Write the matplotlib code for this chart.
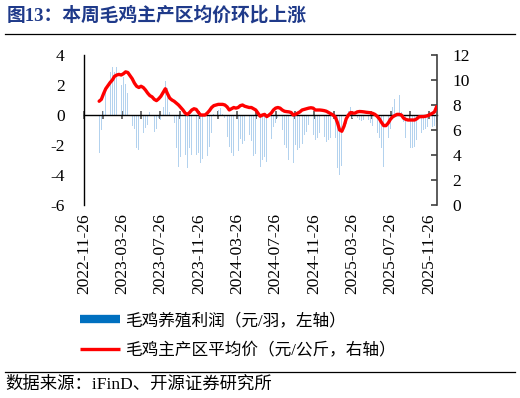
import numpy as np
import pandas as pd
import matplotlib
matplotlib.use('Agg')
import matplotlib.pyplot as plt
import matplotlib.dates as mdates
from matplotlib.lines import Line2D

plt.rcParams['font.family'] = ['Liberation Serif', 'Noto Sans CJK SC']
plt.rcParams['axes.unicode_minus'] = False

title = '图13：本周毛鸡主产区均价环比上涨'
source = '数据来源：iFinD、开源证券研究所'
bar_label = '毛鸡养殖利润（元/羽，左轴）'
line_label = '毛鸡主产区平均价（元/公斤，右轴）'

start_date = '2023-01-13'

# weekly broiler farming profit (yuan/bird, left axis)
profit = [
    -2.55, -1.0, 0.3, 1.9, 3.1, 2.85, 3.2, 2.9, 3.2, 2.8,
    2.0, 2.55, 2.1, 1.45, 0.45, -0.7, -0.9, -2.2, -2.35, -1.65,
    -1.2, -0.85, -0.65, 0.2, 0.05, -1.1, -0.9, -0.2, -0.35, 0.55,
    2.25, 1.8, 0.2, -1.0, -0.5, -2.2, -3.45, -2.8, -2.5, -2.65,
    -3.55, -2.2, -2.65, -2.45, -2.65, -2.55, -3.2, -2.9, -3.2, -2.7,
    -2.1, -1.2, 0.1, 0.2, 0.35, 0.45, 0.1, -0.2, -1.45, -2.1,
    -2.5, -2.7, -2.6, -2.4, -1.6, -1.9, -1.7, -2.0, -1.35, -1.7,
    -2.7, -2.6, -2.8, -3.45, -3.0, -2.8, -3.1, -2.45, -1.6, -0.8,
    -0.55, -0.2, 0.1, -1.0, -2.0, -2.2, -3.0, -3.1, -3.2, -2.0,
    -2.35, -2.2, -1.9, -1.35, -1.1, -0.65, -0.45, -1.35, -1.65, -1.55,
    -1.2, -1.65, -1.45, -1.8, -1.65, -1.55, -1.45, -1.55, -3.5, -4.0,
    -3.4, -2.7, -0.6, 0.3, 0.55, -0.2, -0.3, -0.2, -0.3, -0.4,
    -0.3, -0.35, -0.3, -0.5, -0.7, -0.8, -1.2, -1.55, -2.2, -3.45,
    -2.7, -1.55, -0.9, 0.55, 1.1, 1.8, 1.35, 0.2, -0.45, -1.55,
    -2.0, -2.2, -2.2, -2.1, -1.65, -1.35, -1.2, -1.0, -0.9, -0.8,
    -1.0, -0.8, -0.7, -0.45,
]

# weekly average broiler price in main producing areas (yuan/kg, right axis)
price = [
    8.3, 8.45, 8.9, 9.3, 9.55, 9.8, 10.0, 10.3, 10.4, 10.45,
    10.4, 10.5, 10.65, 10.6, 10.35, 10.1, 9.75, 9.5, 9.4, 9.5,
    9.4, 9.2, 8.95, 8.75, 8.65, 8.45, 8.35, 8.5, 8.7, 9.0,
    9.3, 8.9, 8.55, 8.4, 8.3, 8.15, 8.0, 7.8, 7.6, 7.35,
    7.25, 7.4, 7.6, 7.7, 7.65, 7.4, 7.2, 7.2, 7.2, 7.35,
    7.55, 7.8, 7.95, 8.0, 8.05, 8.05, 8.05, 8.0, 7.85, 7.6,
    7.7, 7.8, 7.75, 7.8, 7.95, 8.0, 7.9, 7.85, 7.8, 7.8,
    7.7, 7.6, 7.35, 7.1, 7.2, 7.25, 7.07, 7.2, 7.35, 7.6,
    7.75, 7.8, 7.75, 7.6, 7.5, 7.47, 7.45, 7.4, 7.2, 7.25,
    7.35, 7.45, 7.6, 7.65, 7.7, 7.75, 7.78, 7.75, 7.6, 7.6,
    7.6, 7.58, 7.55, 7.5, 7.4, 7.3, 7.2, 7.05, 6.6, 6.0,
    5.9, 6.3, 6.9, 7.2, 7.4, 7.35, 7.35, 7.45, 7.48, 7.47,
    7.45, 7.42, 7.4, 7.38, 7.33, 7.25, 7.1, 6.9, 6.6, 6.35,
    6.35, 6.55, 6.85, 7.05, 7.15, 7.25, 7.25, 7.2, 6.95, 6.85,
    6.8, 6.8, 6.8, 6.8, 6.9, 7.05, 7.07, 7.07, 7.1, 7.15,
    7.25, 7.33, 7.45, 7.87,
]

left_ticks = [-6, -4, -2, 0, 2, 4]
right_ticks = [0, 2, 4, 6, 8, 10, 12]
x_labels = ['2022-11-26', '2023-03-26', '2023-07-26', '2023-11-26', '2024-03-26',
            '2024-07-26', '2024-11-26', '2025-03-26', '2025-07-26', '2025-11-26']
axis_start = '2022-11-26'
axis_end = '2025-12-20'

dates = pd.date_range(start_date, periods=len(price), freq='7D')

W, H = 520, 398
fig = plt.figure(figsize=(W / 100, H / 100), dpi=100)

ax = fig.add_axes([84 / W, 1 - 205 / H, (437 - 84) / W, 150 / H])
ax.bar(dates, profit, width=2.6, color='#B3D2EE', linewidth=0, zorder=2)
ax.set_ylim(-6, 4)
ax.set_yticks(left_ticks)
ax.set_xlim(pd.Timestamp(axis_start), pd.Timestamp(axis_end))

# zero line with tick marks
ax.spines['bottom'].set_position(('data', 0))
ax.spines['bottom'].set_color('black')
ax.spines['bottom'].set_linewidth(1.0)
ax.spines['bottom'].set_zorder(3)
ax.spines['top'].set_visible(False)
ax.spines['right'].set_visible(False)
ax.spines['left'].set_color('black')
ax.spines['left'].set_linewidth(1.0)
tick_dates = pd.date_range(axis_start, axis_end, freq=pd.DateOffset(months=2))
ax.set_xticks(mdates.date2num(tick_dates))
ax.tick_params(axis='x', direction='inout', length=5.5, width=1.2, color='#555555',
               labelbottom=False)
ax.tick_params(axis='y', length=0, pad=14, labelsize=12.5)

# date labels at bottom
secax = ax.secondary_xaxis(0)
secax.set_xticks(mdates.date2num(pd.to_datetime(x_labels)), labels=x_labels)
secax.tick_params(length=0, pad=6, labelsize=12.5, labelrotation=90)
secax.spines['bottom'].set_visible(False)

ax2 = ax.twinx()
ax2.plot(dates, price, color='#FF0000', linewidth=2.4, solid_capstyle='round', zorder=4)
ax2.set_ylim(0, 12)
ax2.set_yticks(right_ticks)
for s in ['top', 'bottom', 'left']:
    ax2.spines[s].set_visible(False)
ax2.spines['right'].set_color('#404040')
ax2.spines['right'].set_linewidth(1.2)
ax2.tick_params(axis='y', direction='in', length=4.5, width=1.2, color='#404040',
                pad=11, labelsize=12.5)

# title and rules
fig.text(7 / W, 1 - 15 / H, title, fontsize=13.5, fontweight='bold', color='#1F3A8A',
         ha='left', va='center')
fig.add_artist(Line2D([5 / W, 515 / W], [1 - 34 / H] * 2, color='black', lw=0.9,
                      transform=fig.transFigure))
fig.add_artist(Line2D([5 / W, 515 / W], [1 - 372 / H] * 2, color='black', lw=0.9,
                      transform=fig.transFigure))
fig.text(5 / W, 1 - 385 / H, source, fontsize=12.5, ha='left', va='center')

handles = [Line2D([], [], color='#0070C0', lw=6, solid_capstyle='butt'),
           Line2D([], [], color='#FF0000', lw=2.4, solid_capstyle='butt')]
fig.legend(handles, [bar_label, line_label], loc='upper left',
           bbox_to_anchor=(80 / W, 1 - 313 / H), frameon=False, fontsize=12,
           handlelength=2.4, handletextpad=0.3, labelspacing=0.85,
           borderpad=0, borderaxespad=0)

fig.savefig('out.png', dpi=100)
